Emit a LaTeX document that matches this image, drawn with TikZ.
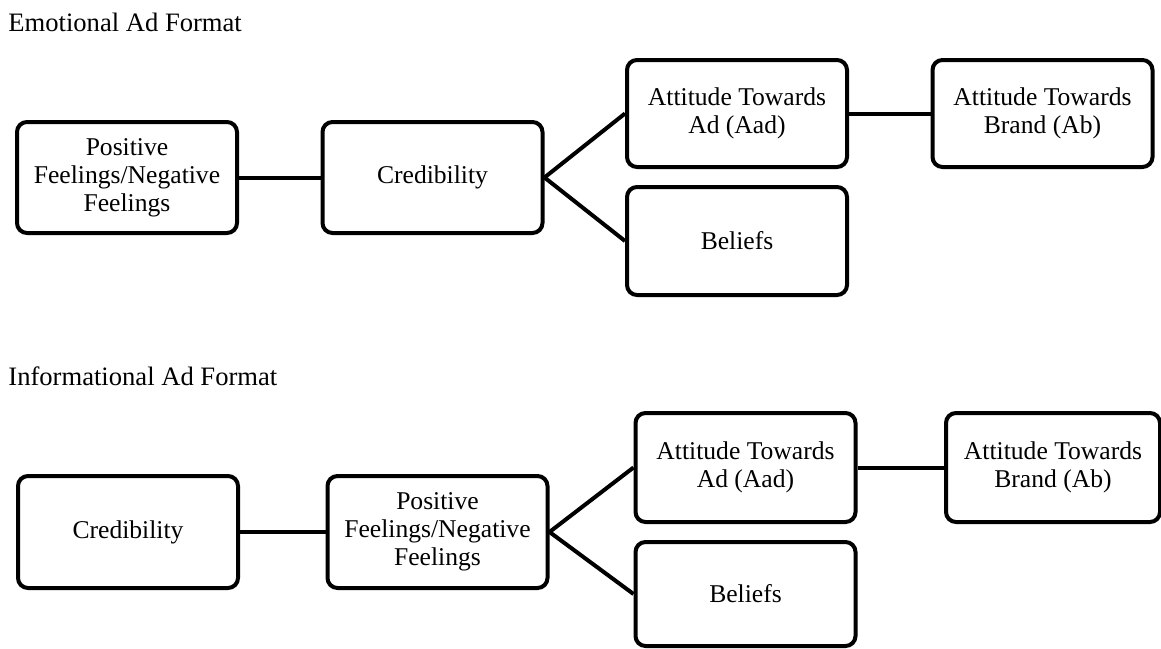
\documentclass[tikz,border=0pt]{standalone}
\usepackage{fontspec}
\setmainfont{Liberation Serif}
\usepackage{tikz}
\usetikzlibrary{positioning}

\begin{document}
\begin{tikzpicture}[
    x=0.5pt, y=-0.5pt,
    box/.style={rectangle, draw, line width=2pt, rounded corners=5pt, minimum width=110pt, minimum height=55.5pt, align=center, inner sep=2pt, font=\fontsize{12.8}{14}\selectfont},
    title/.style={anchor=base west, inner sep=0pt, font=\fontsize{13.3}{15}\selectfont},
    link/.style={line width=2pt},
]
\useasboundingbox (0,0) rectangle (1161,648);

% emotional format
\node[title] (emotitle) at (8,32) {Emotional Ad Format};
\node[box] (pos1) at (127,177.5) {Positive\\Feelings/Negative\\Feelings};
\node[box] (cred1) at (432.5,177.5) {Credibility};
\node[box, minimum height=53.5pt] (aad1) at (737,113.5) {Attitude Towards\\Ad (Aad)};
\node[box, minimum height=54pt] (bel1) at (737,241) {Beliefs};
\node[box, minimum height=53.5pt] (brand1) at (1042.5,113.5) {Attitude Towards\\Brand (Ab)};

\draw[link] (pos1) -- (cred1);
\draw[link] (cred1.east) -- (aad1.west);
\draw[link] (cred1.east) -- (bel1.west);
\draw[link] (aad1) -- (brand1);

% informational format
\node[title] (inftitle) at (8,385) {Informational Ad Format};
\node[box, minimum height=56pt] (cred2) at (128,532) {Credibility};
\node[box, minimum height=56pt] (pos2) at (437.5,532) {Positive\\Feelings/Negative\\Feelings};
\node[box, minimum height=54.5pt] (aad2) at (745.5,467.5) {Attitude Towards\\Ad (Aad)};
\node[box, minimum height=52pt] (bel2) at (745.5,594) {Beliefs};
\node[box, minimum height=54.5pt, minimum width=107pt] (brand2) at (1053,467.5) {Attitude Towards\\Brand (Ab)};

\draw[link] (cred2) -- (pos2);
\draw[link] (pos2.east) -- (aad2.west);
\draw[link] (pos2.east) -- (bel2.west);
\draw[link] (aad2) -- (brand2);

\end{tikzpicture}
\end{document}
